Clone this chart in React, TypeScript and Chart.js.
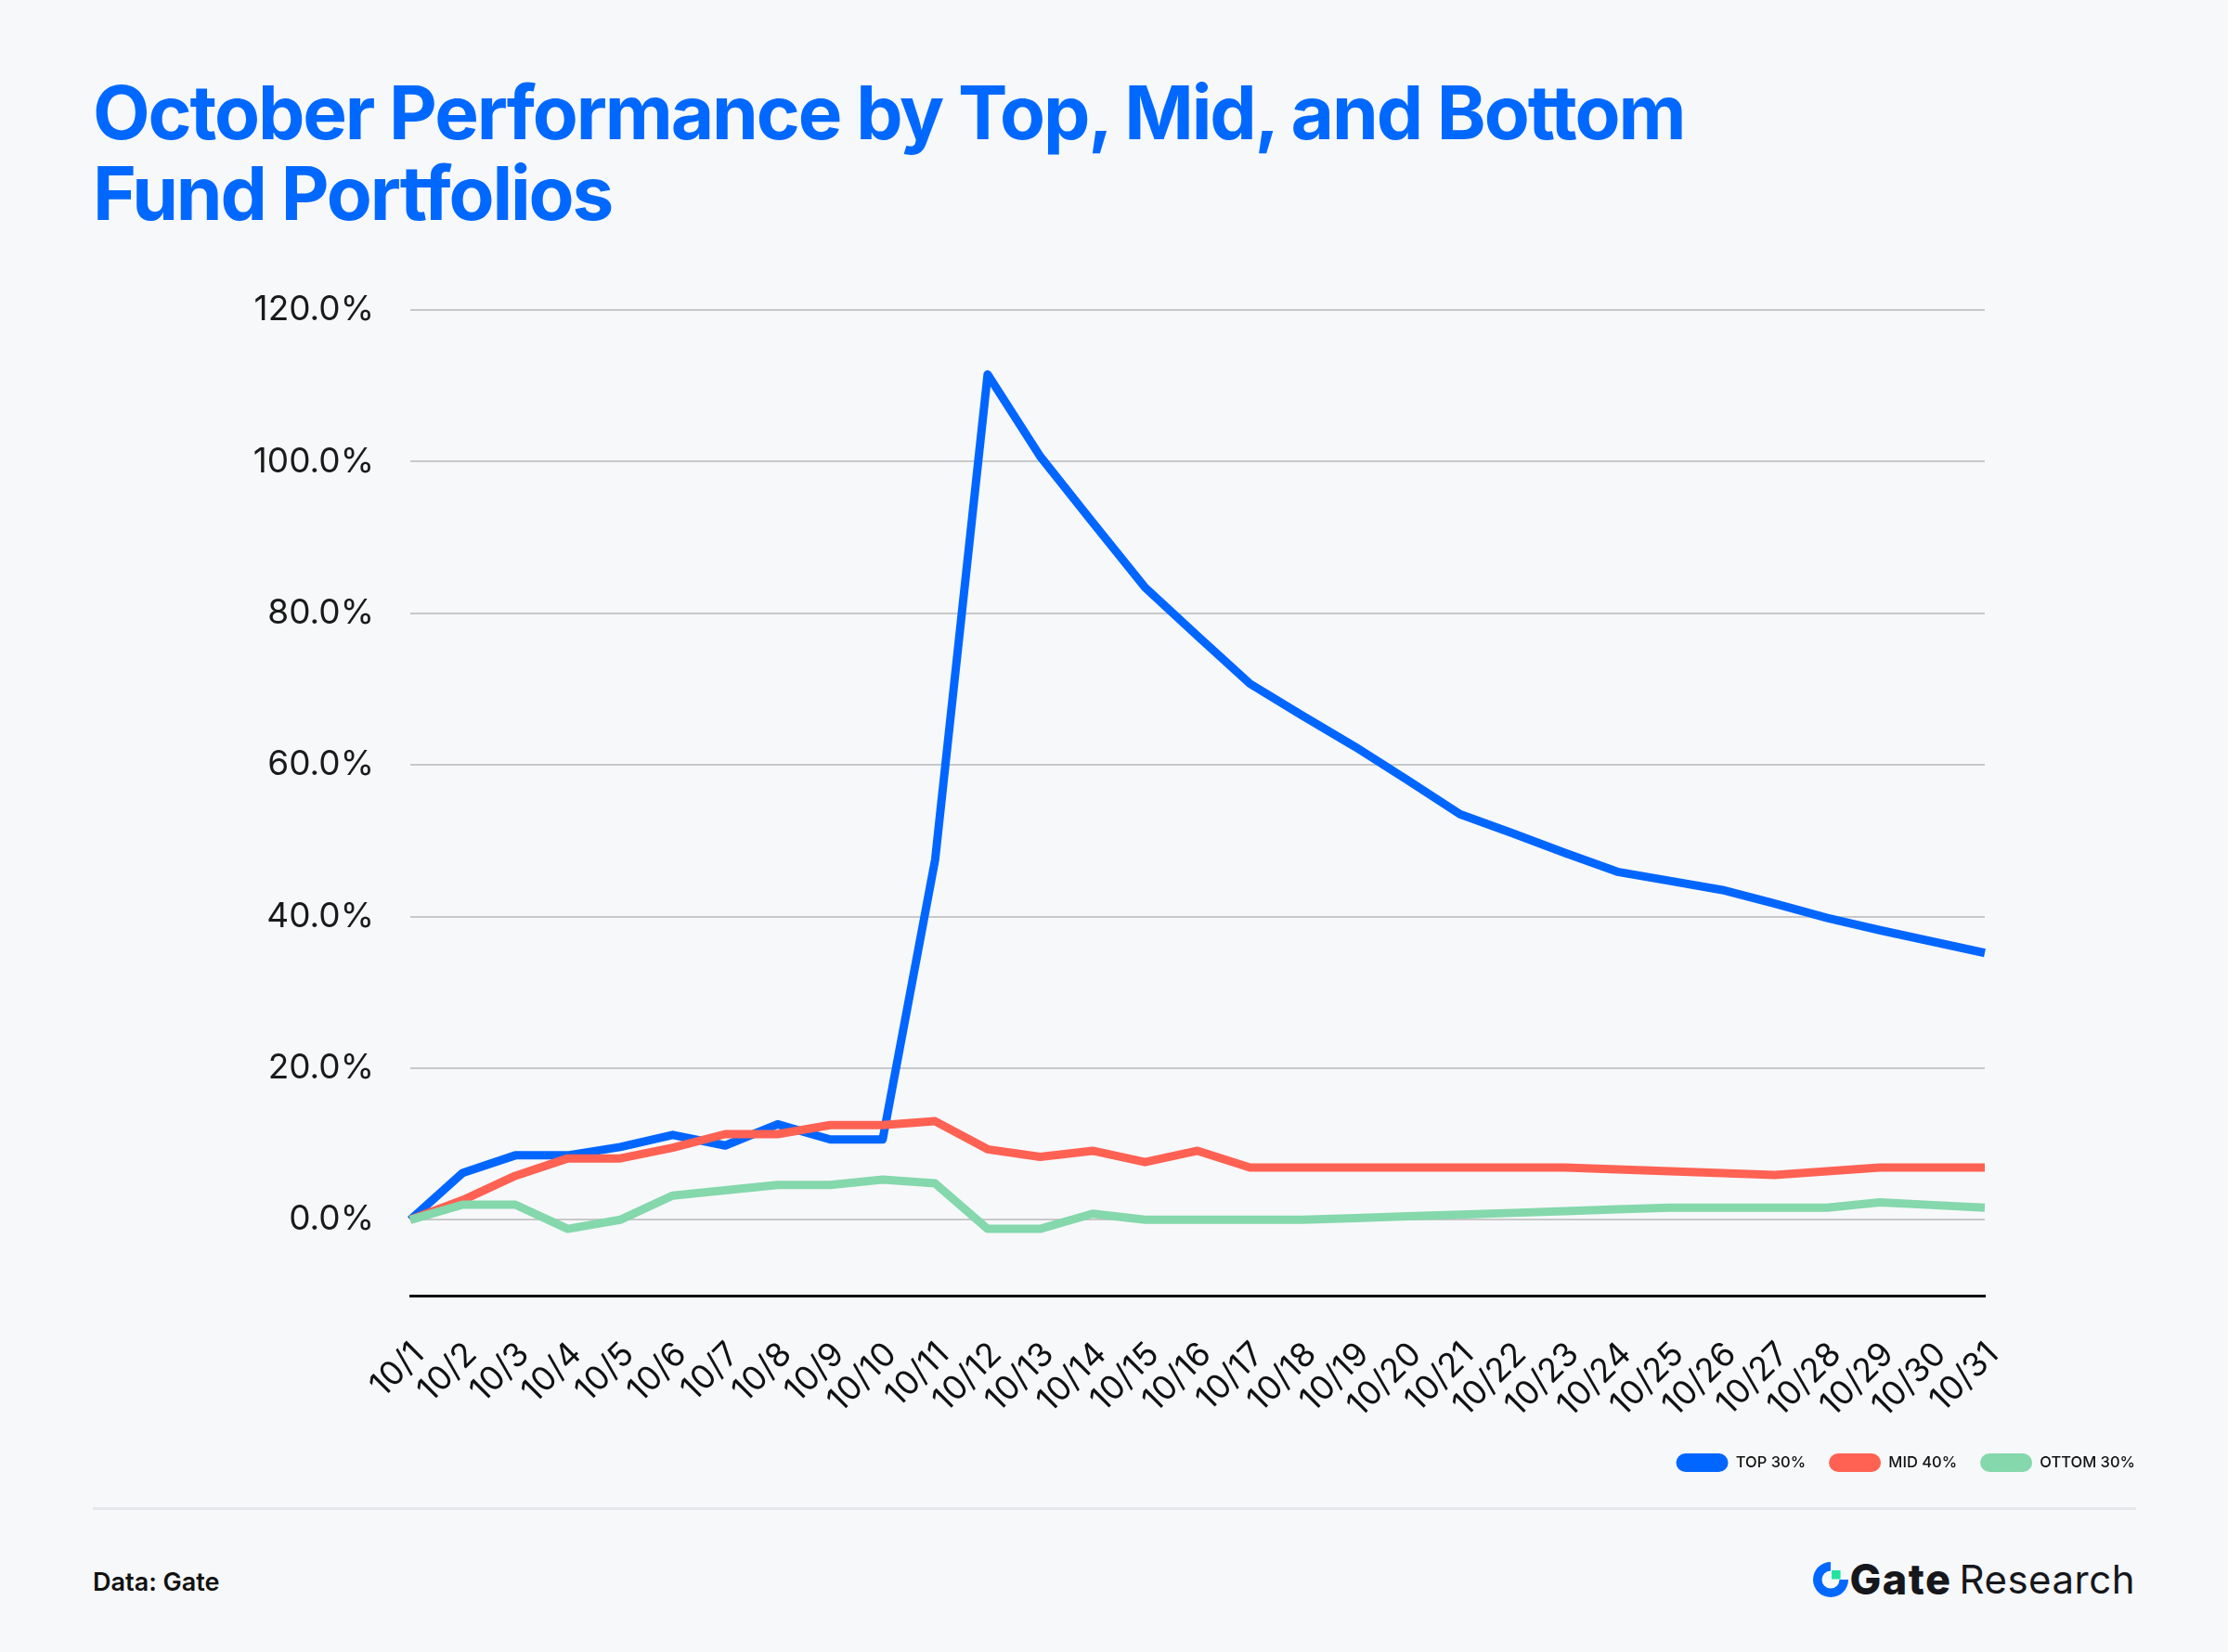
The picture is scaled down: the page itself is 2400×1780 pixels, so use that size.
import React, { useEffect, useRef } from 'react';
import { Chart, registerables } from 'chart.js';

Chart.register(...registerables);

const categories = [
  '10/1', '10/2', '10/3', '10/4', '10/5', '10/6', '10/7', '10/8', '10/9', '10/10',
  '10/11', '10/12', '10/13', '10/14', '10/15', '10/16', '10/17', '10/18', '10/19', '10/20',
  '10/21', '10/22', '10/23', '10/24', '10/25', '10/26', '10/27', '10/28', '10/29', '10/30', '10/31',
];

const top30 = [
  0, 6.2, 8.5, 8.5, 9.6, 11.2, 9.8, 12.6, 10.6, 10.6,
  47.5, 111.5, 100.7, 92.0, 83.4, 77.0, 70.7, 66.5, 62.4, 58.0,
  53.5, 51.0, 48.4, 45.9, 44.7, 43.5, 41.7, 39.8, 38.2, 36.7, 35.2,
];

const mid40 = [
  0, 2.6, 5.8, 8.1, 8.1, 9.5, 11.3, 11.3, 12.5, 12.5,
  13.0, 9.3, 8.3, 9.1, 7.6, 9.1, 6.9, 6.9, 6.9, 6.9,
  6.9, 6.9, 6.9, 6.65, 6.4, 6.15, 5.9, 6.4, 6.9, 6.9, 6.9,
];

const bottom30 = [
  0, 2.0, 2.0, -1.2, 0, 3.2, 3.9, 4.6, 4.6, 5.3,
  4.8, -1.2, -1.2, 0.8, 0, 0, 0, 0, 0.23, 0.46,
  0.69, 0.91, 1.14, 1.37, 1.6, 1.6, 1.6, 1.6, 2.3, 1.95, 1.6,
];

const seriesNames = ['TOP 30%', 'MID 40%', 'OTTOM 30%'];
const seriesColors = ['#0066FF', '#FF6153', '#84D8AC'];

const yMin = -10;
const yMax = 120;
const yStep = 20;

export default function App() {
  const canvasRef = useRef<HTMLCanvasElement | null>(null);

  useEffect(() => {
    const canvas = canvasRef.current;
    if (!canvas) return;
    Chart.defaults.font.family = 'Inter';
    const seriesData = [top30, mid40, bottom30];
    const defaultGen = Chart.defaults.plugins.legend.labels.generateLabels;
    const chart = new Chart(canvas, {
      type: 'line',
      data: {
        labels: categories,
        datasets: seriesData.map((d, i) => ({
          label: seriesNames[i],
          data: d,
          borderColor: seriesColors[i],
          backgroundColor: seriesColors[i],
          borderWidth: 9,
          pointRadius: 0,
          pointHoverRadius: 0,
          tension: 0,
          borderJoinStyle: 'round' as const,
          borderCapStyle: 'butt' as const,
          fill: false,
          order: 3 - i,
        })),
      },
      options: {
        responsive: false,
        animation: false,
        devicePixelRatio: 1,
        layout: { padding: { top: 54, right: 75, bottom: 24, left: 0 } },
        plugins: {
          legend: {
            display: true,
            position: 'bottom',
            align: 'end',
            labels: {
              boxWidth: 56,
              boxHeight: 20,
              useBorderRadius: true,
              borderRadius: 10,
              padding: 25,
              color: '#111111',
              font: { size: 16.5, weight: 500 },
              sort: (a: any, b: any) => a.datasetIndex - b.datasetIndex,
              generateLabels: (c: any) =>
                defaultGen(c).map((l: any) => ({ ...l, lineWidth: 0 })),
            },
          },
          tooltip: { enabled: false },
          title: { display: false },
        },
        scales: {
          x: {
            type: 'category',
            offset: false,
            grid: { display: false, drawTicks: false },
            border: { display: true, color: '#111111', width: 3 },
            ticks: {
              autoSkip: false,
              maxRotation: 45,
              minRotation: 45,
              padding: 42,
              labelOffset: 9,
              color: '#111111',
              font: { size: 36 },
            },
            afterFit: (s: any) => {
              s.height = 145;
            },
          },
          y: {
            type: 'linear',
            position: 'left',
            min: yMin,
            max: yMax,
            grid: {
              color: '#C8C8C8',
              lineWidth: 2,
              drawTicks: true,
              tickLength: 37,
              tickColor: 'rgba(0,0,0,0)',
            },
            border: { display: false },
            ticks: {
              stepSize: yStep,
              includeBounds: false,
              padding: 2,
              color: '#1A1A1A',
              font: { size: 37 },
              callback: (v: any) => Number(v).toFixed(1) + '%',
            },
            afterFit: (s: any) => {
              s.width = 442;
            },
          },
          yRight: {
            type: 'linear',
            position: 'right',
            display: true,
            grid: { display: false, drawTicks: false },
            border: { display: false },
            ticks: { display: false, padding: 0 },
            afterFit: (s: any) => {
              s.width = 187;
            },
          },
        },
      },
    });
    return () => chart.destroy();
  }, []);

  return (
    <div
      style={{
        position: 'absolute',
        left: 0,
        top: 0,
        width: 2400,
        height: 1780,
        background: '#F7F8FA',
        fontFamily: 'Inter, sans-serif',
        overflow: 'hidden',
      }}
    >
      <div
        style={{
          position: 'absolute',
          left: 100,
          top: 77,
          fontSize: 80,
          fontWeight: 700,
          lineHeight: '87px',
          color: '#0068FF',
          letterSpacing: -2.1,
          whiteSpace: 'nowrap',
        }}
      >
        October Performance by Top, Mid, and Bottom
        <br />
        Fund Portfolios
      </div>
      <canvas
        ref={canvasRef}
        width={2400}
        height={1340}
        style={{ position: 'absolute', left: 0, top: 280, width: 2400, height: 1340 }}
      />
      <div
        style={{
          position: 'absolute',
          left: 100,
          top: 1624,
          width: 2201,
          height: 3,
          background: '#E6E8EB',
        }}
      />
      <div
        style={{
          position: 'absolute',
          left: 100,
          top: 1691,
          fontSize: 27,
          lineHeight: 1,
          fontWeight: 600,
          color: '#111111',
        }}
      >
        Data: Gate
      </div>
      <div
        style={{
          position: 'absolute',
          right: 100,
          top: 1681,
          height: 42,
          display: 'flex',
          alignItems: 'center',
          whiteSpace: 'nowrap',
          color: '#16171C',
        }}
      >
        <svg width={38} height={38} viewBox="0 0 36 36" style={{ marginRight: 1 }}>
          <path
            d="M18 0 A18 18 0 1 0 36 18 L27 18 A9 9 0 1 1 18 9 Z"
            fill="#0068FF"
          />
          <rect x={19} y={8.5} width={9} height={9} fill="#20E3A2" />
        </svg>
        <span style={{ fontSize: 45, fontWeight: 800, letterSpacing: 1.5, lineHeight: '42px' }}>Gate</span>
        <span style={{ fontSize: 42, fontWeight: 400, marginLeft: 8, letterSpacing: 0.5, lineHeight: '42px' }}>
          Research
        </span>
      </div>
    </div>
  );
}
